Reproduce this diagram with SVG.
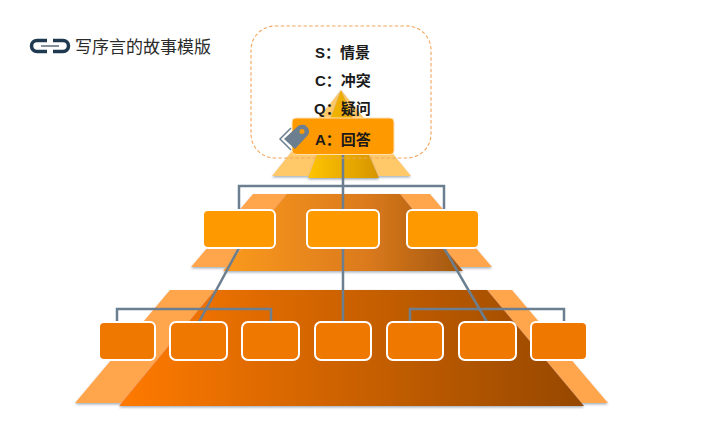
<svg xmlns="http://www.w3.org/2000/svg" width="719" height="422" viewBox="0 0 719 422">
<style>
.c{fill:none;stroke:#6C7F90;stroke-width:2.500}
.m{fill:#FF9900;stroke:#FFF;stroke-width:2}
.b{fill:#EF7800;stroke:#FFF;stroke-width:2}
.t{font-family:"Liberation Sans","Noto Sans CJK SC",sans-serif;font-size:15px;font-weight:700;fill:#1a1a1a}
.l{font-family:"Noto Sans CJK SC",sans-serif;font-size:17px;fill:#2b2b2b}
</style>
<defs>
<linearGradient id="g1"><stop offset="0" stop-color="#FFC400"/><stop offset="1" stop-color="#D69500"/></linearGradient>
<linearGradient id="g2"><stop offset="0" stop-color="#FB9A1E"/><stop offset="0.6" stop-color="#DB7A1C"/><stop offset="1" stop-color="#A2570F"/></linearGradient>
<linearGradient id="g3"><stop offset="0" stop-color="#FF7A00"/><stop offset="1" stop-color="#964800"/></linearGradient>
<filter id="s" x="-5%" y="-5%" width="110%" height="110%"><feDropShadow dx="0" dy="1.500" stdDeviation="0.800" flood-color="#8090A0" flood-opacity="0.700"/></filter>
</defs>
<rect width="719" height="422" fill="#FFF"/>
<g id="pyramid">
<polygon points="341,90 411,176 272,176" fill="#FFC96B" filter="url(#s)"/>
<polygon points="341,90 379,178 308,178" fill="url(#g1)" filter="url(#s)"/>
<polygon points="253,194 430,194 492,267 191,267" fill="#FFA64D" filter="url(#s)"/>
<polygon points="287,194 400,194 463,271 223,271" fill="url(#g2)" filter="url(#s)"/>
<polygon points="170,290 512,290 608,403 75,403" fill="#FFA64D" filter="url(#s)"/>
<polygon points="215,290 487,290 584,406 119,406" fill="url(#g3)" filter="url(#s)"/>
</g>
<g id="connectors">
<path class="c" d="M343 154V210M239 210V186H444V210"/>
<path class="c" d="M239 248L199 322M343 248V322M444 248L487 322"/>
<path class="c" d="M117 322V309H271V322M410 322V309H564V322"/>
</g>
<g id="title">
<g fill="none" stroke="#1F3A50" stroke-width="3.500">
<path d="M47 40.500H37a5.500 5.500 0 0 0 0 11H47"/>
<path d="M53 40.500H63a5.500 5.500 0 0 1 0 11H53"/>
</g>
<path d="M41 46H59" stroke="#5A6C7C" stroke-width="1.500"/>
<text class="l" x="75" y="53">写序言的故事模版</text>
</g>
<g id="node-m1"><rect class="m" x="203" y="210" width="72" height="38" rx="5"/></g>
<g id="node-m2"><rect class="m" x="307" y="210" width="72" height="38" rx="5"/></g>
<g id="node-m3"><rect class="m" x="407" y="210" width="72" height="38" rx="5"/></g>
<g id="node-b1"><rect class="b" x="99" y="322" width="56" height="38" rx="5"/></g>
<g id="node-b2"><rect class="b" x="170" y="322" width="57" height="38" rx="6"/></g>
<g id="node-b3"><rect class="b" x="242" y="322" width="57" height="38" rx="6"/></g>
<g id="node-b4"><rect class="b" x="315" y="322" width="56" height="38" rx="6"/></g>
<g id="node-b5"><rect class="b" x="387" y="322" width="56" height="38" rx="6"/></g>
<g id="node-b6"><rect class="b" x="459" y="322" width="57" height="38" rx="6"/></g>
<g id="node-b7"><rect class="b" x="531" y="322" width="56" height="38" rx="5"/></g>
<g id="node-answer">
<rect x="292" y="118" width="102" height="36.500" rx="4" fill="#FF9900" stroke="#FFE0B0" stroke-width="1"/>
<path d="M291 128L280 139L291 150" fill="none" stroke="#FFF" stroke-width="4"/>
<path d="M291 128L280 139L291 150" fill="none" stroke="#6C7F90" stroke-width="1.500"/>
<path d="M284 139L298 126Q301 124 305 125L308 128Q310 131 308 135L295 149Z" fill="#6C7F90"/>
<circle cx="302" cy="131.500" r="2.500" fill="#FF9900"/>
</g>
<g id="node-scqa">
<rect x="251" y="26" width="180" height="132" rx="24" fill="none" stroke="#F2A55C" stroke-width="1.100" stroke-dasharray="3.500 2.200"/>
<text class="t" x="315" y="57.500">S：情景</text>
<text class="t" x="315" y="85.500">C：冲突</text>
<text class="t" x="314" y="113.500">Q：疑问</text>
<text class="t" x="315" y="144.500">A：回答</text>
</g>
</svg>
